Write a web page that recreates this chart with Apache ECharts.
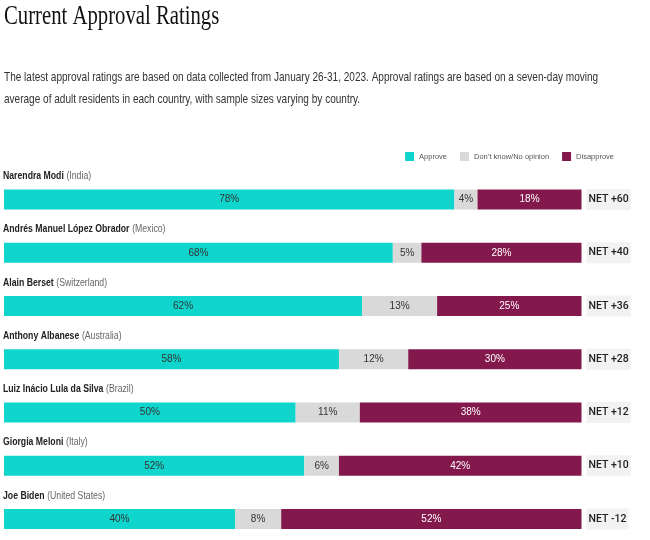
<!DOCTYPE html>
<html>
<head>
<meta charset="utf-8">
<script src="https://cdn.jsdelivr.net/npm/echarts@6/dist/echarts.min.js"></script>
<style>
html,body{margin:0;padding:0;background:#fff;}
#chart{width:650px;height:540px;}
</style>
</head>
<body>
<div id="chart"></div>
<script>
const leaders = ['Narendra Modi','Andrés Manuel López Obrador','Alain Berset','Anthony Albanese','Luiz Inácio Lula da Silva','Giorgia Meloni','Joe Biden'];
const countries = ['India','Mexico','Switzerland','Australia','Brazil','Italy','United States'];
const approve = [78,68,62,58,50,52,40];
const dontKnow = [4,5,13,12,11,6,8];
const disapprove = [18,28,25,30,38,42,52];
const net = ['+60','+40','+36','+28','+12','+10','-12'];
const seriesNames = ['Approve','Don\u2019t know/No opinion','Disapprove'];
const titleText = 'Current Approval Ratings';
const subtitleText = 'The latest approval ratings are based on data collected from January 26-31, 2023. Approval ratings are based on a seven-day moving\naverage of adult residents in each country, with sample sizes varying by country.';

const SANS = "'Liberation Sans', Arial, sans-serif";
const totals = approve.map((v,i)=>v+dontKnow[i]+disapprove[i]);
const norm = arr => arr.map((v,i)=>({value: v/totals[i]*100, raw: v}));

const chart = echarts.init(document.getElementById('chart'));
chart.setOption({
  animation:false,
  graphic:[
    {type:'text', x:4, y:3, scaleX:0.74,
     style:{text:titleText, font:"normal 28px 'Liberation Serif', serif", fill:'#111', align:'left', verticalAlign:'top'}},
    {type:'text', x:4, y:66, scaleX:0.772,
     style:{text:subtitleText, font:"normal 13px "+SANS, fill:'#333', lineHeight:22, align:'left', verticalAlign:'top'}}
  ],
  legend:{
    right:31, top:147,
    itemWidth:9, itemHeight:9, itemGap:13,
    icon:'rect',
    textStyle:{fontFamily:SANS, fontSize:7.5, color:'#555'},
    data:seriesNames
  },
  grid:{left:4, right:68.5, top:199.5, bottom:21, containLabel:false},
  xAxis:{type:'value', min:0, max:100, show:false},
  yAxis:{
    type:'category', data:leaders, inverse:true, boundaryGap:false,
    axisLine:{show:false}, axisTick:{show:false}, splitLine:{show:false},
    axisLabel:{show:false}
  },
  series:[
    {name:seriesNames[0], type:'bar', stack:'t', barWidth:20, data:norm(approve),
     itemStyle:{color:'#10D5CC'},
     label:{show:true, position:'inside', formatter:p=>p.data.raw+'%', fontFamily:SANS, fontSize:10, color:'#333'}},
    {name:seriesNames[1], type:'bar', stack:'t', barWidth:20, data:norm(dontKnow),
     itemStyle:{color:'#D9D9D9'},
     label:{show:true, position:'inside', formatter:p=>p.data.raw+'%', fontFamily:SANS, fontSize:10, color:'#333'}},
    {name:seriesNames[2], type:'bar', stack:'t', barWidth:20, data:norm(disapprove),
     itemStyle:{color:'#83184C'},
     label:{show:true, position:'inside', formatter:p=>p.data.raw+'%', fontFamily:SANS, fontSize:10, color:'#fff'}},
    {name:'net', type:'bar', stack:'t', barWidth:20, data:leaders.map(()=>0),
     itemStyle:{color:'transparent'}, silent:true,
     label:{show:true, position:'right', distance:5, formatter:p=>'NET '+net[p.dataIndex],
       fontFamily:"Roboto, "+SANS, fontSize:10.5, fontWeight:500, color:'#222', backgroundColor:'#F2F2F2', padding:[5,2,5,2]}},
    {name:'names', type:'custom', silent:true,
     data:leaders.map((n,i)=>[0,i]),
     renderItem:(params, api)=>{
       const p = api.coord([api.value(0), api.value(1)]);
       const i = params.dataIndex;
       return {type:'text', x:p[0]-1, y:p[1]-23.5, scaleX:0.79,
         style:{text:'{n|'+leaders[i]+'} {c|('+countries[i]+')}', align:'left', verticalAlign:'middle',
           rich:{
             n:{fontFamily:SANS, fontSize:11, fontWeight:'bold', fill:'#222'},
             c:{fontFamily:SANS, fontSize:11, fill:'#666'}
           }}};
     }}
  ]
});
</script>
</body>
</html>
